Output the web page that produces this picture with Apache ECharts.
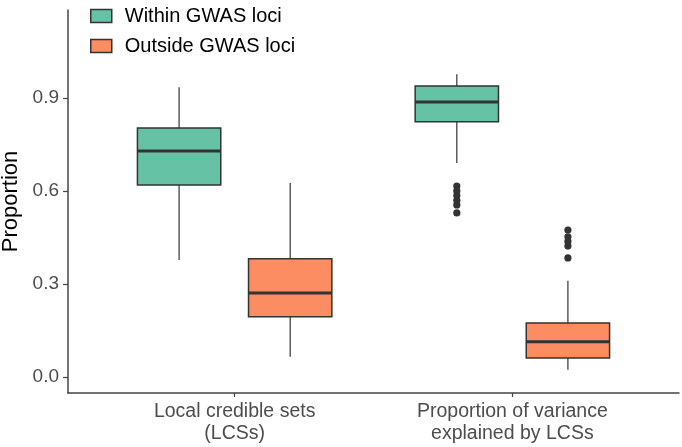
<!DOCTYPE html>
<html>
<head>
<meta charset="utf-8">
<script src="https://cdn.jsdelivr.net/npm/echarts@6/dist/echarts.min.js"></script>
<style>html,body{margin:0;padding:0;background:#fff;}#c{width:682px;height:447px;}</style>
</head>
<body>
<div id="c"></div>
<script>
const categories = ['Local credible sets\n(LCSs)', 'Proportion of variance\nexplained by LCSs'];
const categoryPositions = [1, 2];
const groups = ['Within GWAS loci', 'Outside GWAS loci'];
// [categoryPosition, lowerWhisker, Q1, median, Q3, upperWhisker]
const withinBoxes = [
  [1, 0.377, 0.619, 0.729, 0.803, 0.935],
  [2, 0.690, 0.823, 0.887, 0.939, 0.977]
];
const outsideBoxes = [
  [1, 0.065, 0.194, 0.271, 0.381, 0.626],
  [2, 0.023, 0.061, 0.113, 0.174, 0.310]
];
const withinOutliers = [[2, 0.616], [2, 0.600], [2, 0.585], [2, 0.570], [2, 0.555], [2, 0.529]];
const outsideOutliers = [[2, 0.474], [2, 0.452], [2, 0.437], [2, 0.422], [2, 0.384]];
const yTicks = [0, 0.3, 0.6, 0.9];
const colors = ['#66c2a5', '#fc8d62'];
const FONT = '"Liberation Sans", Arial, Helvetica, sans-serif';

function boxRender(offsetFrac) {
  return function (params, api) {
    const cat = api.value(0);
    const unit = api.size([1, 0])[0];
    const cx = api.coord([cat, 0])[0] + offsetFrac * unit;
    const w = 0.3 * unit;
    const y = i => api.coord([cat, api.value(i)])[1];
    const yLo = y(1), yQ1 = y(2), yMed = y(3), yQ3 = y(4), yHi = y(5);
    const stroke = '#333333';
    return {
      type: 'group',
      children: [
        {type: 'line', shape: {x1: cx, y1: yHi, x2: cx, y2: yQ3}, style: {stroke: stroke, lineWidth: 1.2}},
        {type: 'line', shape: {x1: cx, y1: yQ1, x2: cx, y2: yLo}, style: {stroke: stroke, lineWidth: 1.2}},
        {type: 'rect', shape: {x: cx - w / 2, y: yQ3, width: w, height: yQ1 - yQ3},
          style: {fill: api.visual('color'), stroke: stroke, lineWidth: 1.5}},
        {type: 'line', shape: {x1: cx - w / 2, y1: yMed, x2: cx + w / 2, y2: yMed}, style: {stroke: stroke, lineWidth: 3}}
      ]
    };
  };
}
function outlierRender(offsetFrac) {
  return function (params, api) {
    const cat = api.value(0);
    const unit = api.size([1, 0])[0];
    const p = api.coord([cat, api.value(1)]);
    return {type: 'circle', shape: {cx: p[0] + offsetFrac * unit, cy: p[1], r: 3.6}, style: {fill: '#333333'}};
  };
}

const chart = echarts.init(document.getElementById('c'), null, {renderer: 'canvas'});
chart.setOption({
  animation: false,
  backgroundColor: '#ffffff',
  textStyle: {fontFamily: FONT},
  grid: {left: 68, right: 3, top: 10, bottom: 54, containLabel: false, outerBoundsMode: 'none'},
  legend: {
    orient: 'vertical', left: 85, top: 1,
    itemWidth: 21, itemHeight: 13, itemGap: 10,
    icon: 'rect',
    data: [
      {name: groups[0], itemStyle: {color: colors[0], borderColor: '#333', borderWidth: 1.5}},
      {name: groups[1], itemStyle: {color: colors[1], borderColor: '#333', borderWidth: 1.5}}
    ],
    textStyle: {fontSize: 20, color: '#000', fontFamily: FONT, padding: [0, 0, 0, 8]}
  },
  xAxis: {
    type: 'value', min: 0.4, max: 2.6,
    axisLine: {onZero: false, lineStyle: {color: '#444', width: 1.5}},
    axisTick: {length: 4, customValues: categoryPositions, lineStyle: {color: '#444', width: 1.2}},
    axisLabel: {color: '#4d4d4d', fontSize: 19.5, lineHeight: 22, margin: 8, fontFamily: FONT,
      customValues: categoryPositions,
      formatter: v => categories[categoryPositions.indexOf(Math.round(v))]},
    splitLine: {show: false}
  },
  yAxis: {
    type: 'value', min: -0.052, max: 1.184,
    name: 'Proportion', nameLocation: 'middle', nameGap: 39, nameRotate: 90,
    nameTextStyle: {fontSize: 22, color: '#000', fontFamily: FONT},
    axisLine: {show: true, onZero: false, lineStyle: {color: '#444', width: 1.5}},
    axisTick: {show: true, length: 5, customValues: yTicks, lineStyle: {color: '#444', width: 1.2}},
    axisLabel: {color: '#4d4d4d', fontSize: 19, margin: 9, customValues: yTicks, fontFamily: FONT,
      formatter: v => Number(v).toFixed(1)},
    splitLine: {show: false}
  },
  series: [
    {name: groups[0], type: 'custom', color: colors[0], renderItem: boxRender(-0.2), encode: {x: 0, y: [1, 2, 3, 4, 5]}, data: withinBoxes, z: 2},
    {name: groups[1], type: 'custom', color: colors[1], renderItem: boxRender(0.2), encode: {x: 0, y: [1, 2, 3, 4, 5]}, data: outsideBoxes, z: 2},
    {name: 'within-outliers', type: 'custom', renderItem: outlierRender(-0.2), encode: {x: 0, y: 1}, data: withinOutliers, z: 3},
    {name: 'outside-outliers', type: 'custom', renderItem: outlierRender(0.2), encode: {x: 0, y: 1}, data: outsideOutliers, z: 3}
  ]
});
</script>
</body>
</html>
